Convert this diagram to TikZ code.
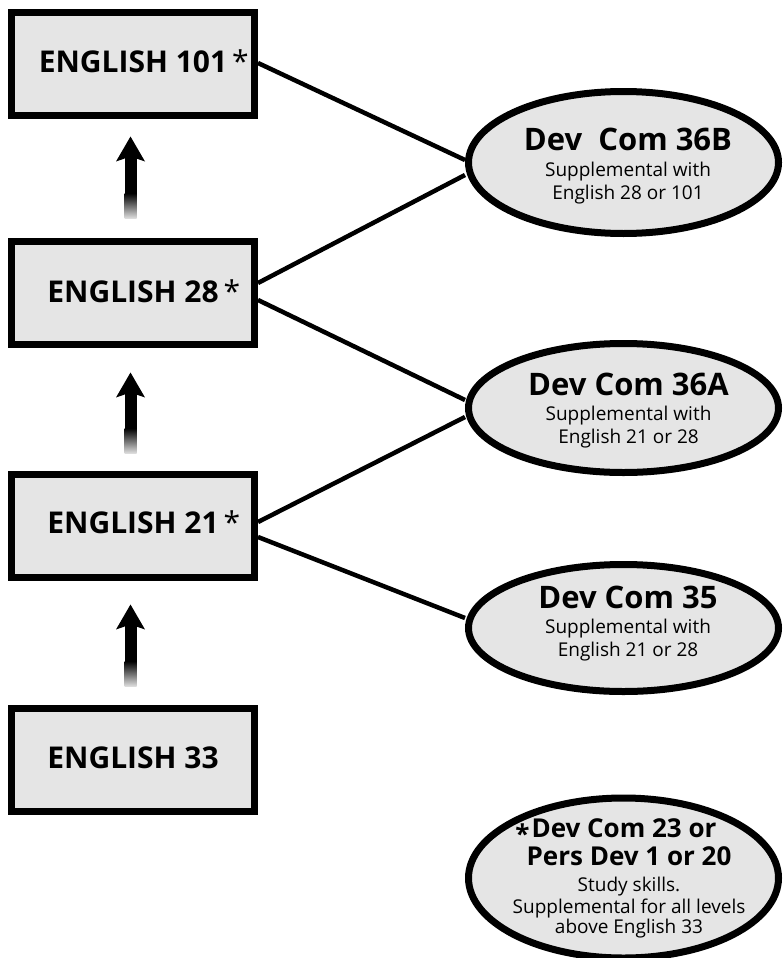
\documentclass[tikz,border=0pt]{standalone}
\usepackage{fontspec}
\setmainfont{Open Sans}
\usetikzlibrary{calc,shapes.geometric}
\definecolor{boxgray}{gray}{0.9}
\newcommand\gradup[2]{%
  \fill (#1) -- ++(14.5,25) -- ++(-14.5,-5) -- ++(-14.5,5) -- cycle;
  \fill ($(#1)+(-6,18)$) rectangle ($(#2)+(6,-25)$);
  \shade[top color=black,bottom color=black!12] ($(#2)+(-6,-25.3)$) rectangle ($(#2)+(6,0)$);
}
\begin{document}
\begin{tikzpicture}[x=1pt,y=-1pt,
  box/.style={draw=black,line width=7pt,fill=boxgray,minimum width=243pt,minimum height=103pt,inner sep=0pt},
  oval/.style={ellipse,draw=black,line width=7pt,fill=boxgray,minimum width=310pt,inner sep=0pt},
  link/.style={line width=4.5pt},
  boxtext/.style={anchor=base,inner sep=0pt,font=\fontsize{30}{36}\selectfont\bfseries},
  ttl/.style={anchor=base,inner sep=0pt,font=\fontsize{31}{36}\selectfont\bfseries},
  ttlsmall/.style={anchor=base,inner sep=0pt,font=\fontsize{26}{30}\selectfont\bfseries},
  sub/.style={anchor=base,inner sep=0pt,font=\fontsize{19}{23}\selectfont},
]
\useasboundingbox (0,0) rectangle (784,958);

% boxes
\node[box] (b101) at (133,64) {};
\node[box] (b28) at (133,293) {};
\node[box] (b21) at (133,526) {};
\node[box] (b33) at (133,760) {};
\node[boxtext] (t101) at (133,72) {ENGLISH 101\rlap{\,\mdseries*}};
\node[boxtext] (t28) at (133,302) {ENGLISH 28\rlap{\,\mdseries*}};
\node[boxtext] (t21) at (133,533) {ENGLISH 21\rlap{\,\mdseries*}};
\node[boxtext] (t33) at (133,768) {ENGLISH 33};

% ellipses
\node[oval,minimum height=142pt] (e36b) at (623.5,162.5) {};
\node[oval,minimum height=129pt] (e36a) at (623.5,408) {};
\node[oval,minimum height=127pt] (e35) at (623.5,628) {};
\node[oval,minimum height=160pt] (e23) at (623.5,878) {};

\node[ttl] (t36b1) at (628,150) {Dev\ \ Com 36B};
\node[sub] (t36b2) at (628,176) {Supplemental with};
\node[sub] (t36b3) at (628,199) {English 28 or 101};

\node[ttl] (t36a1) at (628.5,395) {Dev Com 36A};
\node[sub] (t36a2) at (628.5,420) {Supplemental with};
\node[sub] (t36a3) at (628.5,443) {English 21 or 28};

\node[ttl] (t351) at (628,608) {Dev Com 35};
\node[sub] (t352) at (628,633) {Supplemental with};
\node[sub] (t353) at (628,656) {English 21 or 28};

\node[ttlsmall] (t231) at (624,837) {\llap{\raisebox{-6pt}{*}\kern2pt}Dev Com 23 or};
\node[ttlsmall] (t232) at (629,865) {Pers Dev 1 or 20};
\node[sub] (t233) at (629,891) {Study skills.};
\node[sub] (t234) at (629,913) {Supplemental for all levels};
\node[sub] (t235) at (629,933) {above English 33};

% connectors
\draw[link] ([yshift=1pt]b101.east) -- ([yshift=2.5pt]e36b.west);
\draw[link] ([yshift=10pt]b28.east) -- ([yshift=-12.5pt]e36b.west);
\draw[link] ([yshift=-7pt]b28.east) -- ([yshift=8pt]e36a.west);
\draw[link] ([yshift=4pt]b21.east) -- ([yshift=-9pt]e36a.west);
\draw[link] ([yshift=-11pt]b21.east) -- ([yshift=10pt]e35.west);

% progression arrows
\coordinate (a1t) at ($(b101.south)+(-2.5,17.5)$);
\coordinate (a1b) at ($(b28.north)+(-2.5,-19.5)$);
\coordinate (a2t) at ($(b28.south)+(-2.5,24.5)$);
\coordinate (a2b) at ($(b21.north)+(-2.5,-17.5)$);
\coordinate (a3t) at ($(b21.south)+(-2.5,23.5)$);
\coordinate (a3b) at ($(b33.north)+(-2.5,-18.5)$);
\gradup{a1t}{a1b}
\gradup{a2t}{a2b}
\gradup{a3t}{a3b}
\end{tikzpicture}
\end{document}
